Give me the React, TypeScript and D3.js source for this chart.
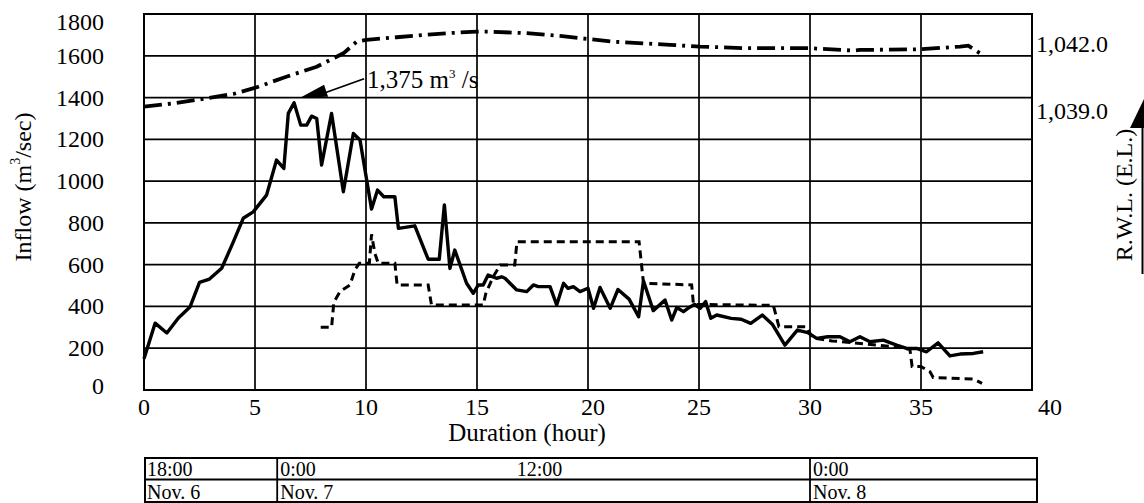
import React from "react";
import * as d3 from "d3";

// ---------- data ----------
const inflowHours = [0.0, 0.5, 1.03, 1.55, 2.07, 2.5, 2.95, 3.5, 4.0, 4.47, 4.92, 5.52, 5.97, 6.3, 6.5, 6.76, 7.06, 7.33, 7.55, 7.78, 8.0, 8.45, 8.98, 9.43, 9.73, 10.25, 10.52, 10.8, 11.3, 11.46, 12.2, 12.8, 13.3, 13.53, 13.78, 14.0, 14.53, 14.83, 15.06, 15.28, 15.5, 15.88, 16.11, 16.26, 16.79, 17.24, 17.54, 17.76, 18.29, 18.59, 18.9, 19.1, 19.34, 19.64, 20.0, 20.25, 20.54, 21.0, 21.35, 21.85, 22.28, 22.5, 22.94, 23.47, 23.77, 24.0, 24.3, 24.5, 24.8, 25.05, 25.3, 25.53, 25.8, 26.45, 26.9, 27.33, 27.85, 28.3, 28.87, 29.43, 29.9, 30.3, 30.8, 31.35, 31.8, 32.25, 32.7, 33.3, 33.9, 34.35, 34.8, 35.25, 35.77, 36.3, 36.76, 37.36, 37.8];
const inflowValues = [150, 320, 273, 345, 397, 515, 531, 583, 703, 822, 853, 933, 1101, 1061, 1324, 1375, 1268, 1268, 1311, 1300, 1077, 1324, 949, 1228, 1197, 866, 957, 925, 925, 774, 786, 626, 626, 886, 582, 670, 511, 463, 503, 503, 550, 535, 542, 535, 479, 471, 503, 495, 495, 407, 511, 487, 495, 471, 487, 391, 491, 391, 481, 435, 351, 522, 380, 431, 335, 395, 375, 391, 410, 391, 423, 343, 359, 343, 339, 319, 359, 315, 215, 287, 275, 247, 255, 255, 231, 255, 231, 239, 215, 199, 199, 183, 226, 163, 172, 175, 183];

const outflowHours = [7.96, 8.45, 8.55, 8.83, 9.28, 9.5, 9.7, 10.15, 10.25, 10.4, 10.55, 11.3, 11.4, 12.8, 12.95, 15.28, 15.4, 15.73, 16.04, 16.7, 16.8, 22.3, 22.5, 24.67, 24.75, 28.35, 28.6, 29.85, 30.1, 31.0, 32.0, 33.0, 34.0, 34.5, 34.6, 35.0, 35.4, 35.55, 37.36, 37.75];
const outflowValues = [300, 300, 420, 471, 503, 575, 607, 607, 745, 654, 607, 607, 503, 503, 407, 407, 463, 542, 598, 598, 710, 710, 511, 503, 410, 405, 303, 303, 250, 235, 225, 215, 205, 195, 112, 112, 88, 60, 52, 32];

const rwlHours = [0, 1.33, 2.52, 4.02, 5.08, 6.28, 7.78, 8.98, 9.58, 10.03, 11.38, 13.63, 14.98, 15.59, 17.24, 18.74, 19.64, 21.14, 21.89, 23.69, 25.05, 27.15, 28.5, 30.0, 32.0, 32.25, 34.95, 36.76, 37.13, 37.66];
const rwlValues = [1039.19, 1039.34, 1039.52, 1039.76, 1040.06, 1040.49, 1040.98, 1041.58, 1042.1, 1042.18, 1042.3, 1042.48, 1042.55, 1042.55, 1042.48, 1042.36, 1042.26, 1042.1, 1042.06, 1041.96, 1041.88, 1041.81, 1041.81, 1041.81, 1041.7, 1041.73, 1041.76, 1041.88, 1041.92, 1041.58];

const yTicks = [0, 200, 400, 600, 800, 1000, 1200, 1400, 1600, 1800];
const xTicks = [0, 5, 10, 15, 20, 25, 30, 35, 40];
const rwlTicks = [1039.0, 1042.0];
const rwlTickLabels = ["1,039.0", "1,042.0"];

const timeHours = [0, 6, 18, 30];
const timeLabels = ["18:00", "0:00", "12:00", "0:00"];
const dateLabels = ["Nov. 6", "Nov. 7", "", "Nov. 8"];

const peakHour = 6.76;
const peakValue = 1375;

// ---------- layout ----------
const W = 1144;
const H = 503;
const FONT = "'Liberation Serif', 'Times New Roman', serif";

export default function App() {
  const x = d3.scaleLinear().domain([0, 40]).range([144, 1032]);
  const y = d3.scaleLinear().domain([0, 1800]).range([390, 14]);
  const yR = d3.scaleLinear().domain([1026.51, 1043.34]).range([390, 14]);

  const lineOf = (hs: number[], vs: number[], sc: (v: number) => number) =>
    d3
      .line<number>()
      .x((_, i) => x(hs[i]))
      .y((v) => sc(v))(vs) || "";

  const inflowPath = lineOf(inflowHours, inflowValues, y);
  const outflowPath = lineOf(outflowHours, outflowValues, y);
  const rwlPath = lineOf(rwlHours, rwlValues, yR);

  const left = x(0);
  const right = x(40);
  const top = y(1800);
  const bottom = y(0);

  // table
  const tTop = 458;
  const tMid = 479.5;
  const tBot = 502;
  const tLeft = left + 1;
  const tRight = right + 5;

  // annotation arrow
  const px = x(peakHour) + 6;
  const py = y(peakValue) - 5;

  return (
    <svg
      width={W}
      height={H}
      style={{ position: "absolute", left: 0, top: 0, background: "#fff" }}
      fontFamily={FONT}
    >
      <rect x={0} y={0} width={W} height={H} fill="#fff" />
      {/* grid */}
      {yTicks.map((t) => (
        <line key={"h" + t} x1={left} x2={right} y1={y(t)} y2={y(t)} stroke="#000" strokeWidth={1.7} />
      ))}
      {xTicks.map((t) => (
        <line key={"v" + t} x1={x(t)} x2={x(t)} y1={top} y2={bottom} stroke="#000" strokeWidth={1.7} />
      ))}
      <rect x={left} y={top} width={right - left} height={bottom - top} fill="none" stroke="#000" strokeWidth={2} />

      {/* series */}
      <path d={rwlPath} fill="none" stroke="#000" strokeWidth={3.8} strokeDasharray="18,6,3,6" />
      <path d={outflowPath} fill="none" stroke="#000" strokeWidth={3} strokeDasharray="8,5" />
      <path d={inflowPath} fill="none" stroke="#000" strokeWidth={3.4} strokeLinejoin="round" />

      {/* left ticks */}
      {yTicks.map((t) => (
        <text
          key={"yl" + t}
          x={104}
          y={Math.min(Math.max(y(t), 22), 386)}
          textAnchor="end"
          dominantBaseline="central"
          fontSize={24}
        >
          {t}
        </text>
      ))}
      {/* bottom ticks */}
      {xTicks.map((t) => (
        <text
          key={"xl" + t}
          x={x(t) + (t === 40 ? 18 : t === 20 ? 5 : 0)}
          y={407}
          textAnchor="middle"
          dominantBaseline="central"
          fontSize={24}
        >
          {t}
        </text>
      ))}
      {/* right ticks */}
      {rwlTicks.map((t, i) => (
        <text key={"rl" + t} x={1036} y={yR(t)} dominantBaseline="central" fontSize={24}>
          {rwlTickLabels[i]}
        </text>
      ))}

      {/* axis titles */}
      <text x={527} y={432} textAnchor="middle" dominantBaseline="central" fontSize={25}>
        Duration (hour)
      </text>
      <text
        transform={`translate(23,187) rotate(-90)`}
        textAnchor="middle"
        dominantBaseline="central"
        fontSize={24}
      >
        Inflow (m
        <tspan fontSize={14} dy={-8}>3</tspan>
        <tspan dy={8}>/sec)</tspan>
      </text>
      <text
        transform={`translate(1124,195) rotate(-90)`}
        textAnchor="middle"
        dominantBaseline="central"
        fontSize={24}
      >
        R.W.L. (E.L.)
      </text>
      <line x1={1142.5} x2={1142.5} y1={127} y2={274} stroke="#000" strokeWidth={2} />
      <polygon points="1130,128 1144,99 1144,128" fill="#000" />

      {/* peak annotation */}
      <polygon points={`${px},${py} ${px + 24},${py - 13} ${px + 28},${py - 1}`} fill="#000" />
      <line x1={px + 25} y1={py - 5} x2={px + 64} y2={py - 19} stroke="#000" strokeWidth={1.8} />
      <text x={367} y={88} fontSize={25}>
        1,375 m
        <tspan fontSize={13} dy={-10}>3</tspan>
        <tspan dy={10}> /s</tspan>
      </text>

      {/* time table */}
      {timeHours.map((h, i) => (
        <g key={"tt" + i}>
          <text
            x={h === 18 ? x(h) - 4 : x(h) + 3}
            y={475.5}
            textAnchor={h === 18 ? "middle" : "start"}
            fontSize={20}
          >
            {timeLabels[i]}
          </text>
          {dateLabels[i] && (
            <text x={x(h) + 3} y={498.5} fontSize={20}>
              {dateLabels[i]}
            </text>
          )}
        </g>
      ))}
      <rect x={tLeft} y={tTop} width={tRight - tLeft} height={tBot - tTop} fill="none" stroke="#000" strokeWidth={2} />
      <line x1={tLeft} x2={tRight} y1={tMid} y2={tMid} stroke="#000" strokeWidth={1.8} />
      {timeHours
        .filter((_, i) => dateLabels[i] && i > 0)
        .map((h) => (
          <line key={"td" + h} x1={x(h)} x2={x(h)} y1={tTop} y2={tBot} stroke="#000" strokeWidth={1.8} />
        ))}
    </svg>
  );
}
